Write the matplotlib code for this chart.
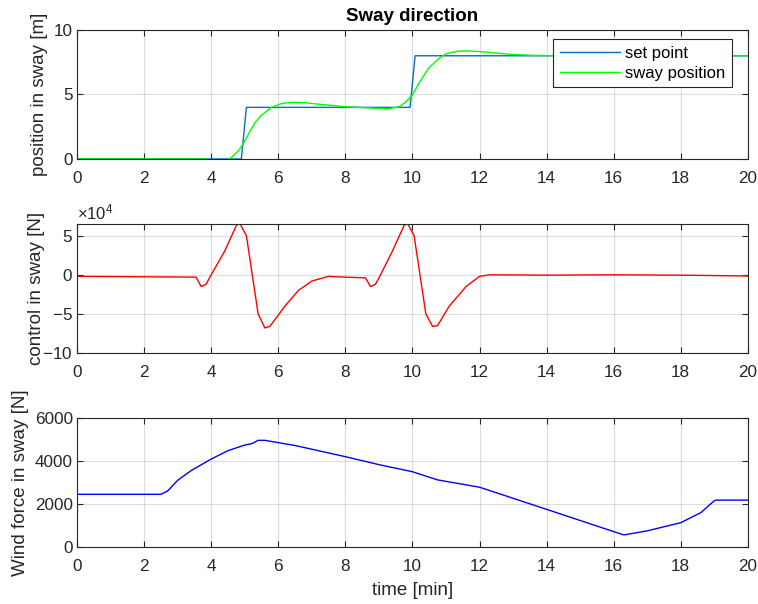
import matplotlib.pyplot as plt
from matplotlib.ticker import ScalarFormatter

plt.rcParams['font.family'] = ['Liberation Sans', 'DejaVu Sans']
plt.rcParams['axes.unicode_minus'] = False
plt.rcParams['mathtext.fontset'] = 'custom'
plt.rcParams['mathtext.rm'] = 'Liberation Sans'
plt.rcParams['mathtext.default'] = 'regular'

# set point [m]
sp_t = [0, 4.9, 5.05, 9.93, 10.08, 20]
sp_y = [0, 0, 4, 4, 8, 8]

# sway position [m]
pos_t = [0, 3.6, 3.9, 4.1, 4.3, 4.5, 4.6, 4.8, 4.9, 5.0, 5.15, 5.3, 5.5, 5.8, 6.1, 6.4, 6.8, 7.3, 8.0, 8.6,
         9.0, 9.3, 9.6, 9.8, 10.0, 10.2, 10.5, 10.8, 11.0, 11.3, 11.5, 11.8, 12.2, 12.6, 13.0, 13.5, 14.0, 15.0, 20]
pos_y = [0, 0, -0.03, -0.08, -0.1, -0.04, 0.1, 0.6, 0.95, 1.4, 2.1, 2.8, 3.4, 4.0, 4.3, 4.4, 4.36, 4.22, 4.05, 3.97,
         3.92, 3.9, 4.05, 4.4, 4.96, 5.9, 7.1, 7.8, 8.15, 8.33, 8.38, 8.36, 8.28, 8.18, 8.1, 8.04, 8.01, 8.0, 8.0]

# control [N]
u_t = [0, 3.55, 3.7, 3.85, 4.0, 4.4, 4.75, 4.85, 5.05, 5.4, 5.6, 5.75, 6.2, 6.6, 7.0, 7.5, 8.0, 8.6,
       8.75, 8.9, 9.05, 9.4, 9.75, 9.85, 10.05, 10.4, 10.6, 10.75, 11.1, 11.6, 12.0, 12.3, 14.0, 16.0, 18.0, 20]
u_y = [-2000, -3000, -15000, -12000, 0, 30000, 63000, 66000, 50000, -50000, -68000, -66000, -40000, -20000,
       -8000, -2000, -3000, -4000, -15000, -12000, 0, 30000, 63000, 66000, 50000, -50000, -66000, -65000,
       -40000, -15000, -2000, 0, -500, 0, -500, -1500]

# wind force [N]
w_t = [0, 2.5, 2.7, 3.0, 3.4, 4.0, 4.5, 5.0, 5.2, 5.4, 5.6, 6.5, 8.0, 9.0, 10.0, 10.75, 12.0, 14.0, 16.3,
       17.0, 18.0, 18.6, 19.0, 19.05, 20]
w_y = [2450, 2450, 2600, 3100, 3550, 4090, 4480, 4740, 4800, 4960, 4960, 4720, 4200, 3830, 3500, 3120, 2780,
       1750, 560, 750, 1130, 1600, 2150, 2180, 2180]

fig = plt.figure(figsize=(7.58, 6.04), dpi=100)
L, W, H = 0.1016, 0.885, 0.2136
ax1 = fig.add_axes([L, 0.7368, W, H])
ax2 = fig.add_axes([L, 0.4156, W, H])
ax3 = fig.add_axes([L, 0.0944, W, H])

ax1.plot(sp_t, sp_y, color='#0072BD', lw=1.0, label='set point')
ax1.plot(pos_t, pos_y, color='#00FF00', lw=1.0, label='sway position')
ax1.set_ylim(0, 10)
ax1.set_yticks([0, 5, 10])
ax1.set_ylabel('position in sway [m]', fontsize=13.5)
ax1.set_title('Sway direction', fontsize=13.5, fontweight='bold', pad=6.5)
leg = ax1.legend(loc='upper right', bbox_to_anchor=(0.976, 0.93), borderaxespad=0, fontsize=12,
                 fancybox=False, framealpha=1, handlelength=3.6, handletextpad=0.3,
                 labelspacing=0.3, edgecolor='#262626')
leg.get_frame().set_linewidth(0.8)

ax2.plot(u_t, u_y, color='#FF0000', lw=1.0)
ax2.set_ylim(-100000, 65000)
ax2.set_yticks([-100000, -50000, 0, 50000])
fmt = ScalarFormatter(useMathText=True)
fmt.set_powerlimits((4, 4))
ax2.yaxis.set_major_formatter(fmt)
ax2.yaxis.get_offset_text().set_fontsize(12)
ax2.yaxis.get_offset_text().set_color('#262626')
ax2.set_ylabel('control in sway [N]', fontsize=13.5, labelpad=-1.5)

ax3.plot(w_t, w_y, color='#0000FF', lw=1.0)
ax3.set_ylim(0, 6000)
ax3.set_yticks([0, 2000, 4000, 6000])
ax3.set_ylabel('Wind force in sway [N]', fontsize=13.5)
ax3.set_xlabel('time [min]', fontsize=13.5, labelpad=6)

for ax in (ax1, ax2, ax3):
    ax.set_xlim(0, 20)
    ax.set_xticks(range(0, 21, 2))
    ax.grid(True, color='#262626', alpha=0.15, lw=0.8)
    ax.tick_params(direction='in', top=True, right=True, labelsize=12.3, colors='#262626', length=4)
    ax.tick_params(axis='x', pad=8.5)
    ax.tick_params(axis='y', pad=3)
    for s in ax.spines.values():
        s.set_color('#262626')
        s.set_linewidth(0.8)
    ax.yaxis.label.set_color('#262626')
    ax.xaxis.label.set_color('#262626')

fig.savefig('out.png', dpi=100)
